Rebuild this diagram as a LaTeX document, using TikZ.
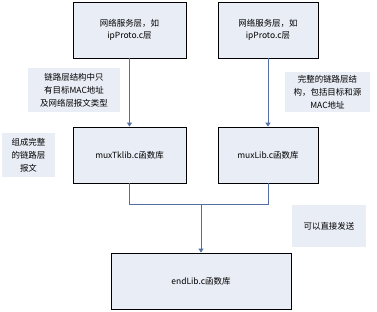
\documentclass[tikz,border=0pt]{standalone}
\usepackage{fontspec}
\setmainfont{Noto Sans CJK SC}
\usepackage{xcolor}
\usetikzlibrary{arrows.meta, positioning, calc}
\definecolor{boxfill}{RGB}{233,237,245}
\definecolor{lnblue}{RGB}{84,110,165}
\tikzset{
  layer/.style = {rectangle, draw=black, line width=0.8pt, fill=boxfill,
                  align=center, inner sep=2pt,
                  font=\fontsize{8.5}{12.5}\selectfont},
  note/.style  = {rectangle, fill=boxfill, align=center, inner sep=2pt,
                  font=\fontsize{8.5}{13}\selectfont},
  arr/.style   = {-{Triangle[length=4pt,width=5pt]}, draw=lnblue, line width=0.8pt},
  ln/.style    = {draw=lnblue, line width=0.8pt}
}
\begin{document}
\begin{tikzpicture}[x=1bp, y=-1bp]
  \useasboundingbox (0,0) rectangle (377,312);
  % upper layer
  \node[layer, minimum width=113bp, minimum height=56bp] (net1) at (129.5,30) {网络服务层，如\\ipProto.c层};
  \node[layer, minimum width=100bp, minimum height=56bp] (net2) at (268,30) {网络服务层，如\\ipProto.c层};
  % mux layer
  \node[layer, minimum width=113bp, minimum height=56bp] (mux1) at (129.5,155) {muxTklib.c函数库};
  \node[layer, minimum width=100bp, minimum height=56bp] (mux2) at (268,155) {muxLib.c函数库};
  % end layer
  \node[layer, minimum width=180bp, minimum height=56bp] (end) at (201,281) {endLib.c函数库};
  % notes
  \node[note, minimum width=92bp, minimum height=44bp] (lbl1) at (74,90) {链路层结构中只\\有目标MAC地址\\及网络层报文类型};
  \node[note, minimum width=85bp, minimum height=40bp] (lbl2) at (327.5,92) {完整的链路层结\\构，包括目标和源\\MAC地址};
  \node[note, minimum width=53bp, minimum height=44bp] (lbl3) at (28.5,155) {组成完整\\的链路层\\报文};
  \node[note, minimum width=74bp, minimum height=42bp] (lbl4) at (329,226) {可以直接发送};
  % connectors
  \draw[arr] (net1) -- (mux1);
  \draw[arr] (net2) -- (mux2);
  \coordinate (join) at (end.north |- 0,204);
  \draw[ln] (mux1.south) -- ++(0,21) -| (mux2.south);
  \draw[arr] (join) -- (end.north);
\end{tikzpicture}
\end{document}
